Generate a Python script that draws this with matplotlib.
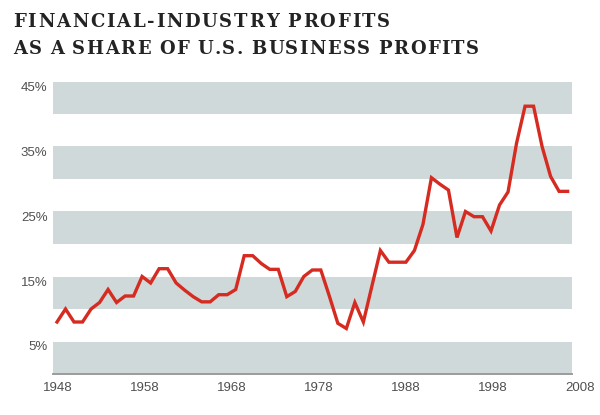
import matplotlib
matplotlib.use("Agg")
import matplotlib.pyplot as plt
import matplotlib.transforms as mtransforms
from matplotlib.font_manager import FontProperties

# ---------------- data ----------------
years = list(range(1948, 2009))
share = [8, 10, 8, 8, 10, 11, 13, 11, 12, 12,
         15, 14, 16.2, 16.2, 14, 12.9, 11.9, 11.1, 11.1, 12.2,
         12.2, 13, 18.2, 18.2, 17, 16.1, 16.1, 11.9, 12.7, 15,
         16, 16, 12, 7.8, 7, 11, 8, 13.5, 19, 17.2,
         17.2, 17.2, 19, 23, 30.2, 29.2, 28.3, 21, 25, 24.2,
         24.2, 22, 26, 28, 35.5, 41.2, 41.2, 35, 30.4, 28.1,
         28.1]
band_ranges = [(0, 5), (10, 15), (20, 25), (30, 35), (40, 45)]
ytick_vals = [5, 15, 25, 35, 45]
ytick_labels = ["5%", "15%", "25%", "35%", "45%"]
xtick_years = [1948, 1958, 1968, 1978, 1988, 1998, 2008]
xtick_labels = ["1948", "1958", "1968", "1978", "1988", "1998", "2008"]
title_lines = ["FINANCIAL-INDUSTRY PROFITS",
               "AS A SHARE OF U.S. BUSINESS PROFITS"]

# ---------------- layout ----------------
W, H = 600, 415
fig = plt.figure(figsize=(W / 100, H / 100), dpi=100)
fig.patch.set_facecolor("white")

ax_left, ax_right, ax_bottom, ax_top = 53, 572, 374, 81.5   # pixels
rect = [ax_left / W, 1 - ax_bottom / H, (ax_right - ax_left) / W,
        (ax_bottom - ax_top) / H]
ax = fig.add_axes(rect)
px_per_year = 8.51
x0_px = 57.0
ax.set_xlim(1948 - (x0_px - ax_left) / px_per_year,
            1948 + (ax_right - x0_px) / px_per_year)
ax.set_ylim(0, 45)

band_color = "#cfd9d9"
for lo, hi in band_ranges:
    ax.axhspan(lo, hi, color=band_color, lw=0, zorder=0)

ax.plot(years, share, color="#d62b21", lw=2.4, solid_joinstyle="miter",
        zorder=3)

for s in ["top", "right", "left"]:
    ax.spines[s].set_visible(False)
ax.spines["bottom"].set_color("#9c9c9c")
ax.spines["bottom"].set_linewidth(1.4)
ax.spines["bottom"].set_zorder(4)

lab_color = "#505050"
lab_font = ["Liberation Sans", "DejaVu Sans"]
ax.set_yticks(ytick_vals)
ax.set_yticklabels(ytick_labels, va="top", color=lab_color,
                   family=lab_font, fontsize=9.5)
ax.tick_params(axis="y", length=0, pad=4)
ax.set_xticks([])
ax.set_facecolor("white")

# x labels: placed on their own (slightly wider) year scale
ax_lab = fig.add_axes(rect, frameon=False)
ax_lab.set_zorder(-1)
lab_x0, lab_step = 58.0, 8.7
ax_lab.set_xlim(1948 - (lab_x0 - ax_left) / lab_step,
                1948 + (ax_right - lab_x0) / lab_step)
ax_lab.set_ylim(0, 1)
ax_lab.axis("off")
trans = mtransforms.blended_transform_factory(ax_lab.transData, ax_lab.transAxes)
trans = trans + mtransforms.ScaledTranslation(0, -8 / 100, fig.dpi_scale_trans)
for yr, lab in zip(xtick_years, xtick_labels):
    ax_lab.text(yr, 0, lab, transform=trans, ha="center", va="top",
                color=lab_color, family=lab_font, fontsize=9.5,
                clip_on=False)

# ---------------- title with letter spacing ----------------
fig.canvas.draw()
renderer = fig.canvas.get_renderer()
fp = FontProperties(family="DejaVu Serif", weight="bold", size=13)


def tracked(text, x_px, base_px, target_w):
    widths = []
    for ch in text:
        if ch == " ":
            widths.append(fp.get_size_in_points() * 100 / 72 * 0.30)
        else:
            w, h, d = renderer.get_text_width_height_descent(ch, fp, ismath=False)
            widths.append(w)
    natural = sum(widths)
    track = (target_w - natural) / (len(text) - 1)
    x = x_px
    for ch, w in zip(text, widths):
        if ch != " ":
            fig.text(x / W, 1 - base_px / H, ch, fontproperties=fp,
                     color="#232323", ha="left", va="baseline")
        x += w + track


tracked(title_lines[0], 13, 27, 377)
tracked(title_lines[1], 13, 54, 466)

fig.savefig("out.png", dpi=100, facecolor="white")
